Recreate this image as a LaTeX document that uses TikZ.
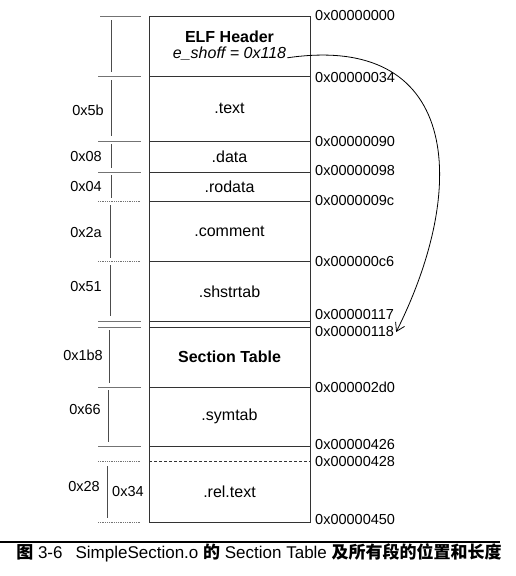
\documentclass[tikz,border=0pt]{standalone}
\usepackage{fontspec}
\setmainfont{Liberation Sans}
\newfontfamily\cjk{Noto Sans CJK SC}
\usepackage{tikz}
\usetikzlibrary{arrows.meta}
\tikzstyle{addr}=[anchor=west,inner sep=2pt,font=\fontsize{14.5}{16}\selectfont]
\tikzstyle{size}=[anchor=east,inner sep=2pt,font=\fontsize{14.5}{16}\selectfont]
\tikzstyle{sect}=[inner sep=1pt,font=\fontsize{16}{18}\selectfont]
\tikzstyle{frame}=[draw=black!80,line width=0.9pt]
\tikzstyle{ext}=[draw=black!55,line width=0.8pt]
\tikzstyle{dim}=[draw=black!70,line width=0.8pt]
\tikzstyle{ptr}=[draw=black,line width=0.8pt,-{Straight Barb[length=8pt,width=10pt]}]

\begin{document}
\begin{tikzpicture}[x=1pt,y=-1pt]
\useasboundingbox (0,0) rectangle (515,576);

% the file, section by section
\draw[frame] (149,16) rectangle (310,522);
\draw[frame] (149,76) -- (310,76);
\draw[frame] (149,141) -- (310,141);
\draw[frame] (149,172) -- (310,172);
\draw[frame] (149,201) -- (310,201);
\draw[frame] (149,261) -- (310,261);
\draw[frame] (149,321) -- (310,321);
\draw[frame] (149,327) -- (310,327);
\draw[frame] (149,387) -- (310,387);
\draw[frame] (149,446) -- (310,446);
\draw[frame,densely dashed] (149,461) -- (310,461);

\node[sect,font=\fontsize{16}{18}\selectfont\bfseries] (elf) at (229.5,37) {ELF Header};
\node[sect,font=\fontsize{16}{18}\selectfont\itshape] (eshoff) at (229.5,54) {e\_shoff = 0x118};
\node[sect] (text) at (229.5,108.5) {.text};
\node[sect] (data) at (229.5,156.5) {.data};
\node[sect] (rodata) at (229.5,186.5) {.rodata};
\node[sect] (comment) at (229.5,231) {.comment};
\node[sect] (shstrtab) at (229.5,291.5) {.shstrtab};
\node[sect,font=\fontsize{16}{18}\selectfont\bfseries] (sectab) at (229.5,357) {Section Table};
\node[sect] (symtab) at (229.5,416) {.symtab};
\node[sect] (reltext) at (229.5,491.5) {.rel.text};

% offsets on the right
\node[addr] (a000) at (313,16) {0x00000000};
\node[addr] (a034) at (313,78) {0x00000034};
\node[addr] (a090) at (313,142) {0x00000090};
\node[addr] (a098) at (313,171) {0x00000098};
\node[addr] (a09c) at (313,201) {0x0000009c};
\node[addr] (a0c6) at (313,262) {0x000000c6};
\node[addr] (a117) at (313,315) {0x00000117};
\node[addr] (a118) at (313,332) {0x00000118};
\node[addr] (a2d0) at (313,387) {0x000002d0};
\node[addr] (a426) at (313,445) {0x00000426};
\node[addr] (a428) at (313,462) {0x00000428};
\node[addr] (a450) at (313,520) {0x00000450};

% sizes on the left
\draw[ext] (100,16) -- (141,16);
\draw[ext] (98,76) -- (141,76);
\draw[ext] (98,141) -- (141,141);
\draw[ext] (98,172) -- (141,172);
\draw[ext,densely dotted] (98,201) -- (141,201);
\draw[ext,densely dotted] (98,261) -- (141,261);
\draw[ext] (98,321) -- (141,321);
\draw[ext] (98,327) -- (141,327);
\draw[ext] (98,387) -- (141,387);
\draw[ext] (98,446) -- (141,446);
\draw[ext,densely dotted] (98,461) -- (141,461);
\draw[ext,densely dotted] (98,522) -- (141,522);

\draw[dim] (111,20) -- (111,72);
\draw[dim] (111,80) -- (111,136);
\draw[dim] (111,144) -- (111,168);
\draw[dim] (111,175) -- (111,198);
\draw[dim] (110,205) -- (110,258);
\draw[dim] (110,265) -- (110,316);
\draw[dim] (109,330) -- (109,383);
\draw[dim] (108,390) -- (108,442);
\draw[dim] (107,466) -- (107,518);

\node[size] (s5b) at (106,110) {0x5b};
\node[size] (s08) at (104,157) {0x08};
\node[size] (s04) at (104,187) {0x04};
\node[size] (s2a) at (104,233) {0x2a};
\node[size] (s51) at (104,287) {0x51};
\node[size] (s1b8) at (105,355) {0x1b8};
\node[size] (s66) at (103,410) {0x66};
\node[size] (s28) at (102,487) {0x28};
\node[size,anchor=west] (s34) at (110,492) {0x34};

% e_shoff points at the section table
\draw[ptr] ([yshift=1pt]eshoff.base east) .. controls +(170,-25) and +(75,-150) .. (a118.east);

% caption
\draw[line width=1.5pt] (0,542) -- (500,542);
\node[inner sep=0pt,font=\fontsize{17}{19}\selectfont] (caption) at (259,553)
  {{\cjk\bfseries 图} 3-6\hspace{13pt}SimpleSection.o {\cjk\bfseries 的} Section Table {\cjk\bfseries 及所有段的位置和长度}};

\end{tikzpicture}
\end{document}
